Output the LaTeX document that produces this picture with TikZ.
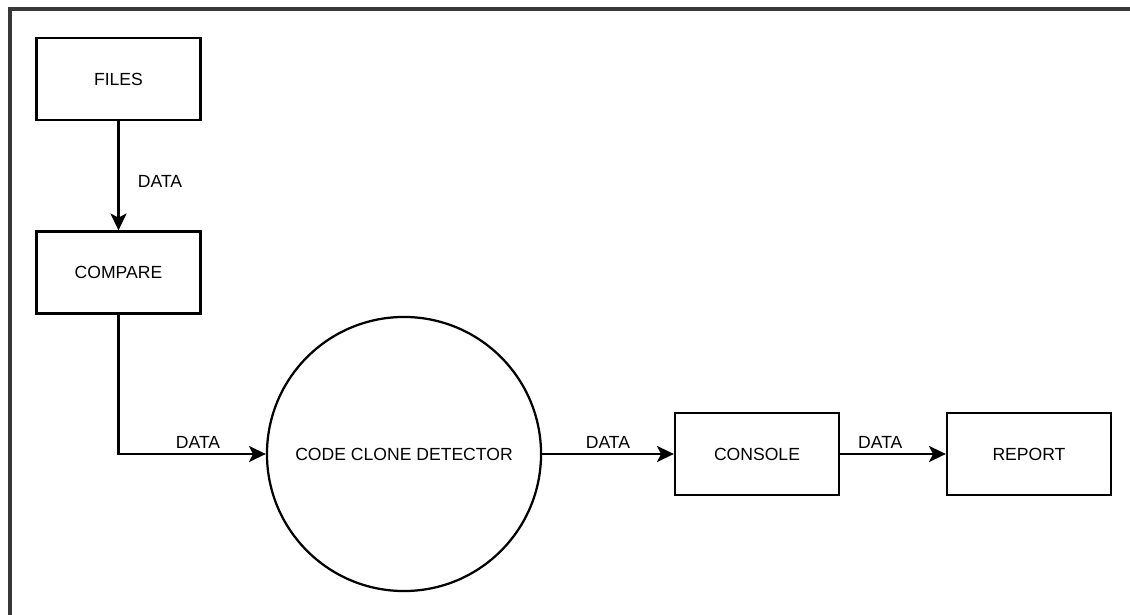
\documentclass[tikz,border=0pt]{standalone}
\usepackage{fontspec}
\setmainfont{Liberation Sans}
\usetikzlibrary{arrows.meta, positioning}

\begin{document}
\begin{tikzpicture}[x=0.025cm, y=-0.025cm,
  box/.style={draw, line width=1.6pt, minimum width=4.1cm, minimum height=2.05cm,
    inner sep=0pt, font=\fontsize{12.5}{15}\selectfont},
  flow/.style={-{Stealth[length=0.42cm, width=0.4cm, inset=0.1cm]}, line width=1.6pt},
  lbl/.style={font=\fontsize{12.5}{15}\selectfont, inner sep=3pt}]
  \useasboundingbox (0,0) rectangle (1130,615);

  % Moldura
  \draw[line width=2.2pt, black!78] (10,615) -- (10,9) -- (1130,9);

  % Caixas e processo
  \node[box] (files) at (118.5,79) {FILES};
  \node[box] (compare) at (118.5,272.5) {COMPARE};
  \node[circle, draw, line width=1.6pt, minimum size=6.85cm, inner sep=0pt,
    font=\fontsize{12.5}{15}\selectfont] (detector) at (404,454) {CODE CLONE DETECTOR};
  \node[box] (console) at (757,454) {CONSOLE};
  \node[box] (report) at (1029,454) {REPORT};

  % Fluxos de dados
  \draw[flow] (files) -- node[lbl, pos=0.55, right=10pt] {DATA} (compare);
  \draw[flow] (compare.south) |- node[lbl, pos=0.77, above] {DATA} (detector.west);
  \draw[flow] (detector) -- node[lbl, above] {DATA} (console);
  \draw[flow] (console) -- node[lbl, pos=0.38, above] {DATA} (report);
\end{tikzpicture}
\end{document}
